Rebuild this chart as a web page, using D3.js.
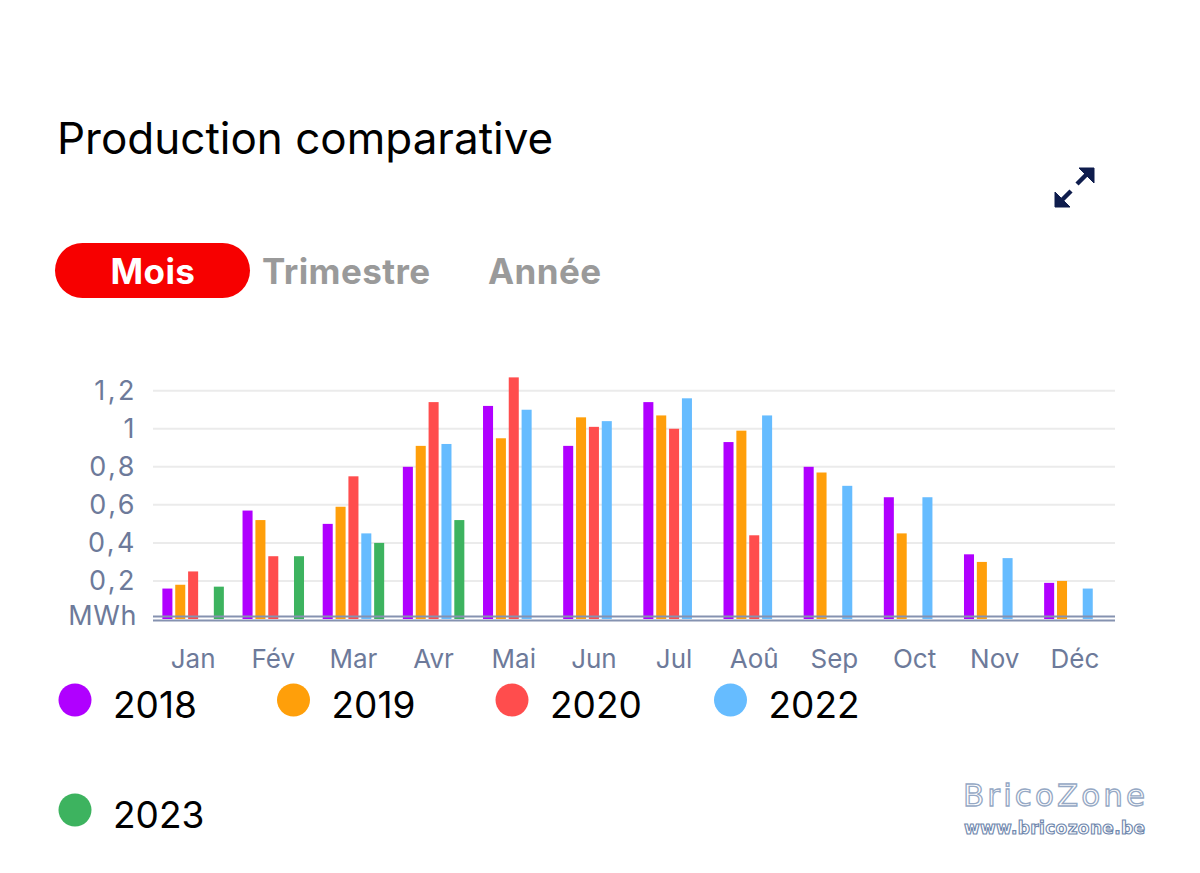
<!DOCTYPE html>
<html>
<head>
<meta charset="utf-8">
<script src="https://cdn.jsdelivr.net/npm/d3@7"></script>
<style>
  html, body { margin: 0; padding: 0; background: #fff; }
  svg { display: block; font-family: Inter, "Noto Sans", sans-serif; }
</style>
</head>
<body>
<script>
(function () {
  "use strict";
  var w = 1200,
      h = 873;

  // data (MWh)
  var months = ["Jan", "Fév", "Mar", "Avr", "Mai", "Jun", "Jul", "Aoû", "Sep", "Oct", "Nov", "Déc"];
  var years = ["2018", "2019", "2020", "2022", "2023"];
  var colors = ["#b000ff", "#ff9f0a", "#ff4d4d", "#66bcff", "#3db35f"];
  var v2018 = [0.16, 0.57, 0.50, 0.80, 1.12, 0.91, 1.14, 0.93, 0.80, 0.64, 0.34, 0.19];
  var v2019 = [0.18, 0.52, 0.59, 0.91, 0.95, 1.06, 1.07, 0.99, 0.77, 0.45, 0.30, 0.20];
  var v2020 = [0.25, 0.33, 0.75, 1.14, 1.27, 1.01, 1.00, 0.44, null, null, null, null];
  var v2022 = [null, null, 0.45, 0.92, 1.10, 1.04, 1.16, 1.07, 0.70, 0.64, 0.32, 0.16];
  var v2023 = [0.17, 0.33, 0.40, 0.52, null, null, null, null, null, null, null, null];
  var yTicks = [0, 0.2, 0.4, 0.6, 0.8, 1, 1.2];
  var tabs = ["Mois", "Trimestre", "Année"];

  var series = [v2018, v2019, v2020, v2022, v2023];

  var svg = d3.select("body")
              .append("svg")
              .attr("width", w)
              .attr("height", h);

  // header
  svg.append("text")
     .attr("x", 57)
     .attr("y", 154)
     .attr("font-size", 44)
     .attr("fill", "#000")
     .text("Production comparative");

  // expand icon
  var icon = svg.append("g")
                .attr("fill", "#0f1d4d")
                .attr("stroke", "#0f1d4d");
  icon.append("line").attr("x1", 1091).attr("y1", 170).attr("x2", 1077).attr("y2", 184).attr("stroke-width", 4.5);
  icon.append("path").attr("d", "M1094,168 L1079,168 L1094,183 Z").attr("stroke-width", 1);
  icon.append("line").attr("x1", 1057).attr("y1", 205).attr("x2", 1071).attr("y2", 191).attr("stroke-width", 4.5);
  icon.append("path").attr("d", "M1055,207 L1055,192 L1070,207 Z").attr("stroke-width", 1);

  // tabs
  svg.append("rect")
     .attr("x", 55).attr("y", 243)
     .attr("width", 195).attr("height", 55)
     .attr("rx", 27.5)
     .attr("fill", "#f70000");
  var tabX = [153, 262, 488];
  svg.selectAll("text.tab")
     .data(tabs)
     .enter()
     .append("text")
     .attr("class", "tab")
     .attr("x", (d, i) => tabX[i])
     .attr("y", 284)
     .attr("font-size", 35)
     .attr("font-weight", 700)
     .attr("letter-spacing", 0.4)
     .attr("text-anchor", (d, i) => i === 0 ? "middle" : "start")
     .attr("fill", (d, i) => i === 0 ? "#fff" : "#9a9a9a")
     .text(d => d);

  // scales
  var x0 = d3.scaleBand()
             .domain(months)
             .range([153, 1115])
             .paddingInner(0.233)
             .paddingOuter(0.117);
  var x1 = d3.scaleBand()
             .domain(years)
             .range([0, x0.bandwidth()])
             .paddingInner(0.22);
  var y = d3.scaleLinear()
            .domain([0, 1.2])
            .range([619, 390.7]);

  // grid
  svg.selectAll("line.grid")
     .data(yTicks.slice(1))
     .enter()
     .append("line")
     .attr("class", "grid")
     .attr("x1", 153).attr("x2", 1115)
     .attr("y1", d => y(d)).attr("y2", d => y(d))
     .attr("stroke", "#ebebeb")
     .attr("stroke-width", 2);

  // bars
  var groups = svg.selectAll("g.month")
                  .data(months)
                  .enter()
                  .append("g")
                  .attr("class", "month")
                  .attr("transform", d => "translate(" + x0(d) + ",0)");
  groups.selectAll("rect")
        .data((m, i) => years.map((yr, j) => ({ yr: yr, c: colors[j], v: series[j][i] })).filter(d => d.v != null))
        .enter()
        .append("rect")
        .attr("x", d => x1(d.yr))
        .attr("width", x1.bandwidth())
        .attr("y", d => y(d.v))
        .attr("height", d => y(0) - y(d.v))
        .attr("fill", d => d.c);

  // baseline (double rule)
  svg.append("line").attr("x1", 153).attr("x2", 1115).attr("y1", 616.5).attr("y2", 616.5)
     .attr("stroke", "#8592b0").attr("stroke-width", 1.8);
  svg.append("line").attr("x1", 153).attr("x2", 1115).attr("y1", 620.5).attr("y2", 620.5)
     .attr("stroke", "#8592b0").attr("stroke-width", 1.8);

  // y axis
  var yAxis = svg.append("g")
                 .attr("transform", "translate(137,0)")
                 .call(d3.axisLeft(y)
                         .tickValues(yTicks)
                         .tickSize(0)
                         .tickPadding(0)
                         .tickFormat(d => d === 0 ? "MWh" : String(d).replace(".", ",")));
  yAxis.select(".domain").remove();
  yAxis.selectAll("text")
       .attr("font-size", 27)
       .attr("font-family", "Inter, sans-serif")
       .attr("letter-spacing", 0.6)
       .attr("fill", "#6d7a9a");
  yAxis.selectAll(".tick")
       .filter(d => d !== 0)
       .select("text")
       .attr("letter-spacing", 2.5);
  yAxis.selectAll(".tick")
       .filter(d => d === 0)
       .select("text")
       .attr("dy", "0.2em");

  // x axis
  var xAxis = svg.append("g")
                 .attr("transform", "translate(0,641)")
                 .call(d3.axisBottom(x0).tickSize(0).tickPadding(0));
  xAxis.select(".domain").remove();
  xAxis.selectAll("text")
       .attr("font-size", 26)
       .attr("font-family", "Inter, sans-serif")
       .attr("fill", "#6d7a9a")
       .attr("dy", "1.05em");

  // legend
  var legend = svg.selectAll("g.leg")
                  .data(years)
                  .enter()
                  .append("g")
                  .attr("class", "leg")
                  .attr("transform", (d, i) => "translate(" + (75 + (i % 4) * 218.5) + "," + (i < 4 ? 700 : 810) + ")");
  legend.append("circle")
        .attr("r", 16.5)
        .attr("fill", (d, i) => colors[i]);
  legend.append("text")
        .attr("x", 38)
        .attr("y", 17.5)
        .attr("font-size", 37)
        .attr("fill", "#000")
        .text(d => d);

  // watermark
  svg.append("text")
     .attr("x", 963).attr("y", 806)
     .attr("font-size", 31)
     .attr("font-family", "'DejaVu Sans', sans-serif")
     .attr("fill", "#fff")
     .attr("stroke", "#95a8c4")
     .attr("stroke-width", 1.3)
     .attr("textLength", 182)
     .text("BricoZone");
  svg.append("text")
     .attr("x", 964).attr("y", 834)
     .attr("font-size", 17)
     .attr("font-weight", 700)
     .attr("font-family", "'DejaVu Sans', sans-serif")
     .attr("fill", "#fff")
     .attr("stroke", "#6f87ad")
     .attr("stroke-width", 1.1)
     .attr("textLength", 181)
     .text("www.bricozone.be");
})();
</script>
</body>
</html>
